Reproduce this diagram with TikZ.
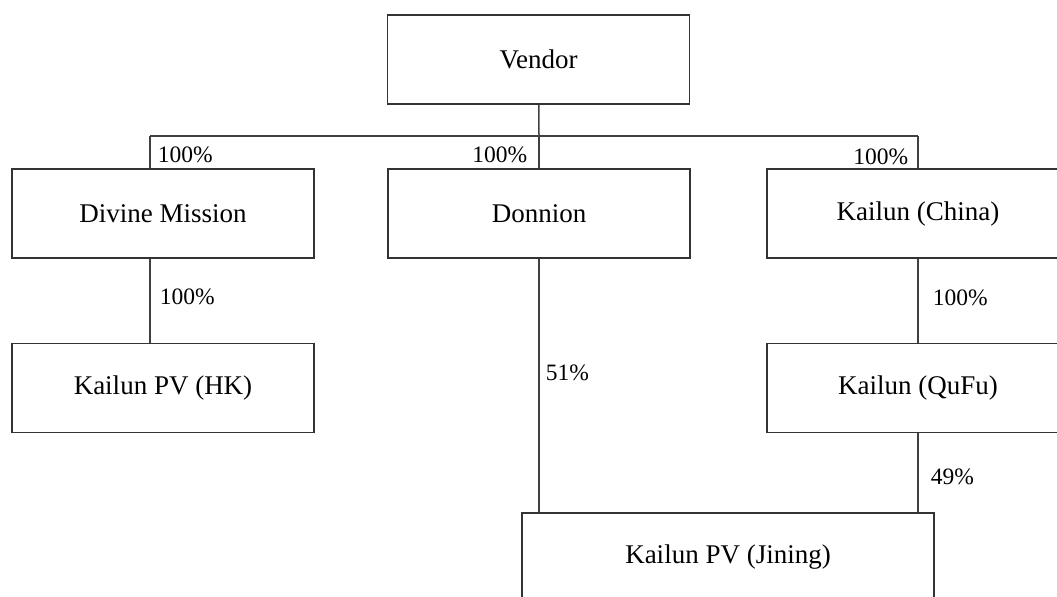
\documentclass[tikz,border=0pt]{standalone}
\usepackage{fontspec}
\setmainfont{Liberation Serif}
\usepackage{tikz}
\usetikzlibrary{positioning,calc}

\begin{document}
\begin{tikzpicture}[x=0.4pt,y=-0.4pt,
  line width=0.6pt,
  every node/.style={font=\fontsize{10.8}{13}\selectfont},
  co/.style={draw=black!80,minimum width=120.8pt,minimum height=35.6pt,inner sep=0pt,align=center},
  pct/.style={font=\fontsize{9.4}{11}\selectfont,inner sep=0pt},
  ln/.style={draw=black!75}]
 \clip (0,0) rectangle (1057,596);
 \node[co] (vendor)  at (538.5,59.5) {Vendor};
 \node[co] (divine)  at (163,213.5) {Divine Mission};
 \node[co] (donnion) at (539,213.5) {Donnion};
 \node[co] (china)   at (918,213.5) {Kailun (China)};
 \node[co] (hk)      at (163,388) {Kailun PV (HK)};
 \node[co] (qufu)    at (918,388) {Kailun (QuFu)};
 \node[co,minimum width=164.8pt] (jining) at (728,557.5) {Kailun PV (Jining)};
 \coordinate (busL) at (150,136);
 \coordinate (busM) at (539,136);
 \coordinate (busR) at (918,136);
 % ownership lines
 \draw[ln] (vendor) -- (busM);
 \draw[ln] (busL) -- (busR);
 \draw[ln] (busL) -- (busL |- divine.north);
 \draw[ln] (busM) -- (donnion);
 \draw[ln] (busR) -- (china);
 \draw[ln] (divine.south -| busL) -- (hk.north -| busL);
 \draw[ln] (donnion) -- (jining.north -| donnion.south);
 \draw[ln] (china) -- (qufu);
 \draw[ln] (qufu) -- (jining.north -| qufu.south);
 % percentages
 \node[pct,anchor=west] (pDiv) at (157,155) {100\%};
 \node[pct,anchor=east] (pDon) at (528,155) {100\%};
 \node[pct,anchor=east] (pChi) at (909,157) {100\%};
 \node[pct,anchor=west] (pHK)  at (159,297) {100\%};
 \node[pct,anchor=west] (pQu)  at (932,298) {100\%};
 \node[pct,anchor=west] (pJn1) at (545,373) {51\%};
 \node[pct,anchor=west] (pJn2) at (930,477) {49\%};
\end{tikzpicture}
\end{document}
